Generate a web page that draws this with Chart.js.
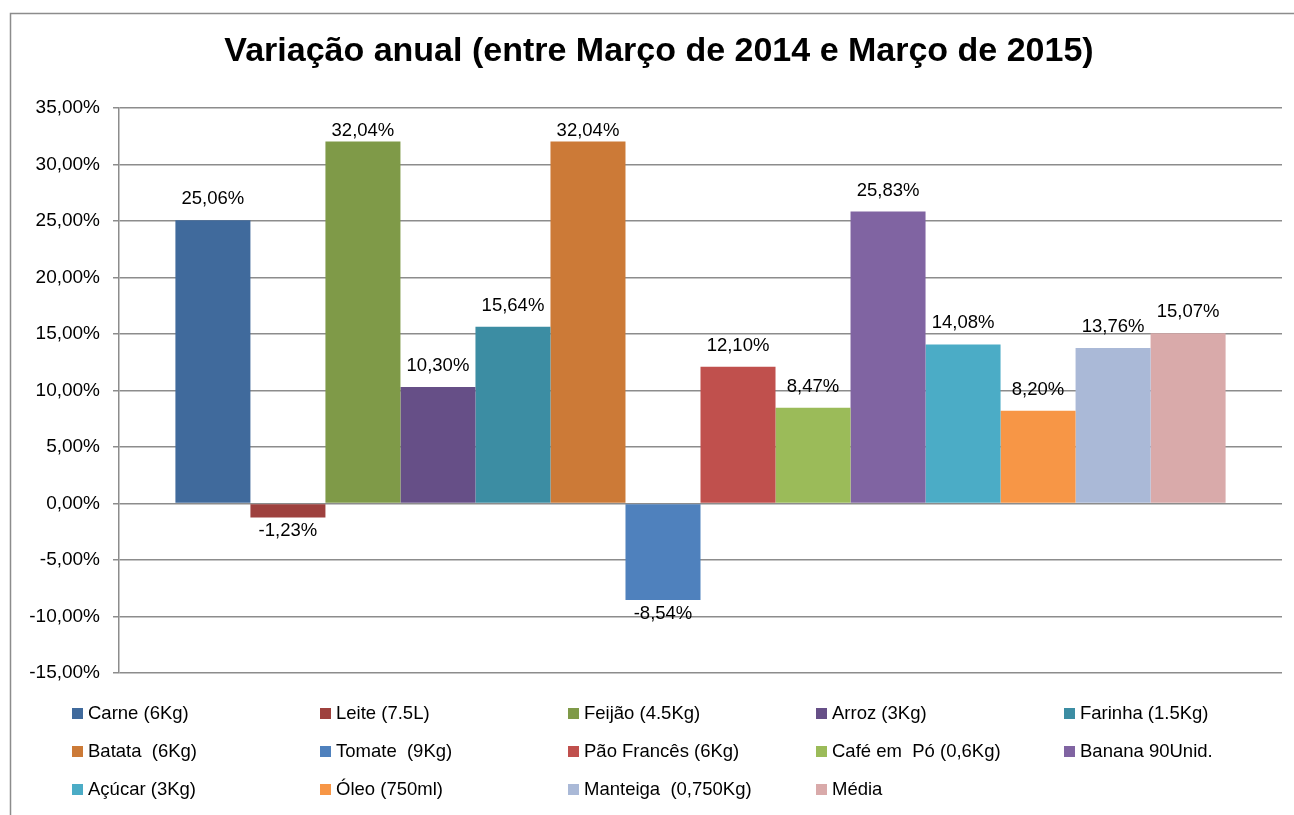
<!DOCTYPE html>
<html>
<head>
<meta charset="utf-8">
<script src="https://cdn.jsdelivr.net/npm/chart.js@4.4.1/dist/chart.umd.min.js"></script>
<style>
  html, body { margin: 0; padding: 0; background: #fff; }
  #chart { display: block; }
</style>
</head>
<body>
<canvas id="chart" width="1294" height="815"></canvas>
<script>
// Dados (variação anual em %)
var chartTitle = 'Variação anual (entre Março de 2014 e Março de 2015)';
var produtos = [
  'Carne (6Kg)', 'Leite (7.5L)', 'Feijão (4.5Kg)', 'Arroz (3Kg)', 'Farinha (1.5Kg)',
  'Batata  (6Kg)', 'Tomate  (9Kg)', 'Pão Francês (6Kg)', 'Café em  Pó (0,6Kg)', 'Banana 90Unid.',
  'Açúcar (3Kg)', 'Óleo (750ml)', 'Manteiga  (0,750Kg)', 'Média'
];
var variacoes = [25.06, -1.23, 32.04, 10.30, 15.64, 32.04, -8.54, 12.10, 8.47, 25.83, 14.08, 8.20, 13.76, 15.07];
var cores = [
  '#406A9C', '#9E413E', '#7F9A48', '#664F87', '#3C8DA3',
  '#CC7A37', '#4F81BD', '#C0504D', '#9BBB59', '#8064A2',
  '#4BACC6', '#F79646', '#AAB9D7', '#D9AAAA'
];
var yMin = -15, yMax = 35, yStep = 5;

var FONT = "'Liberation Sans', Arial, sans-serif";

function fmtPct(v) {
  return v.toFixed(2).replace('.', ',') + '%';
}

var datasets = produtos.map(function (nome, i) {
  return {
    label: nome,
    data: [variacoes[i]],
    backgroundColor: cores[i],
    borderWidth: 0,
    barPercentage: 1,
    categoryPercentage: 0.903
  };
});

// moldura externa + título
var moldura = {
  id: 'moldura',
  beforeDraw: function (chart) {
    var ctx = chart.ctx;
    ctx.save();
    ctx.fillStyle = '#fff';
    ctx.fillRect(0, 0, chart.width, chart.height);
    ctx.strokeStyle = '#8c8c8c';
    ctx.lineWidth = 1.5;
    ctx.strokeRect(10.5, 13.5, chart.width + 20, chart.height + 20);
    ctx.fillStyle = '#000';
    ctx.font = 'bold 34px ' + FONT;
    ctx.textAlign = 'center';
    ctx.textBaseline = 'middle';
    ctx.fillText(chartTitle, 659, 52);
    ctx.restore();
  }
};

// rótulos de valor em cima / embaixo das barras
var rotulos = {
  id: 'rotulos',
  afterDatasetsDraw: function (chart) {
    var ctx = chart.ctx;
    var area = chart.chartArea;
    ctx.save();
    ctx.fillStyle = '#000';
    ctx.font = '18.5px ' + FONT;
    ctx.textAlign = 'center';
    ctx.textBaseline = 'middle';
    chart.data.datasets.forEach(function (ds, i) {
      var bar = chart.getDatasetMeta(i).data[0];
      var v = ds.data[0];
      var y;
      if (v >= 0) {
        y = Math.max(bar.y - 21, area.top + 23);
      } else {
        y = bar.y + 14;
      }
      ctx.fillText(fmtPct(v), bar.x, y);
    });
    ctx.restore();
  }
};

// legenda em 5 colunas (estilo Excel)
var legenda = {
  id: 'legenda',
  afterDraw: function (chart) {
    var ctx = chart.ctx;
    ctx.save();
    ctx.font = '18.5px ' + FONT;
    ctx.textAlign = 'left';
    ctx.textBaseline = 'middle';
    chart.data.datasets.forEach(function (ds, i) {
      var col = i % 5, row = Math.floor(i / 5);
      var x = 72 + col * 248;
      var y = 714 + row * 38;
      ctx.fillStyle = ds.backgroundColor;
      ctx.fillRect(x, y - 6, 11, 11);
      ctx.fillStyle = '#000';
      ctx.fillText(ds.label, x + 16, y);
    });
    ctx.restore();
  }
};

new Chart(document.getElementById('chart'), {
  type: 'bar',
  data: { labels: [''], datasets: datasets },
  options: {
    responsive: false,
    animation: false,
    layout: { padding: { top: 108, bottom: 142, left: 0, right: 12 } },
    plugins: {
      legend: { display: false },
      title: { display: false },
      tooltip: { enabled: false }
    },
    scales: {
      x: {
        ticks: { display: false },
        grid: { display: false },
        border: { display: false },
        afterFit: function (scale) { scale.height = 0; }
      },
      y: {
        min: yMin,
        max: yMax,
        ticks: {
          stepSize: yStep,
          color: '#000',
          padding: 13,
          font: { family: FONT, size: 19 },
          callback: function (v) { return fmtPct(v); }
        },
        grid: { color: '#8c8c8c', lineWidth: 1.5, tickLength: 6 },
        border: { color: '#8c8c8c', width: 1.5 },
        afterFit: function (scale) { scale.width = 119; }
      }
    }
  },
  plugins: [moldura, rotulos, legenda]
});
</script>
</body>
</html>
